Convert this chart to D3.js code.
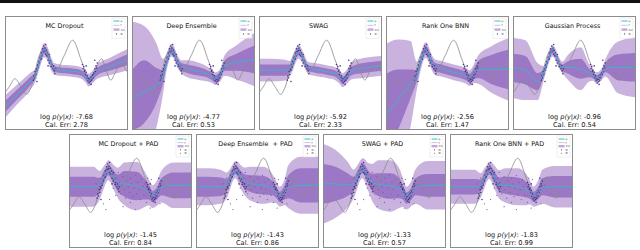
<!DOCTYPE html>
<html>
<head>
<meta charset="utf-8">
<script src="https://cdn.jsdelivr.net/npm/d3@7"></script>
<style>
body { margin: 0; background: #fff; }
text { font-family: "DejaVu Sans", sans-serif; white-space: pre; }
</style>
</head>
<body>
<svg width="640" height="250"></svg>
<script>
var xGrid = [0, 1, 2, 2.5, 2.8, 3.0, 3.2, 3.4, 3.6, 4, 4.5, 5.5, 6.2, 6.5, 6.8, 7.2, 7.5, 8.5, 10];

// true function f
var fX = [0, 0.4, 0.8, 1.3, 1.75, 2.1, 2.45, 2.8, 3.15, 3.4, 3.6, 4.1, 4.8, 5.5, 6.2, 6.85, 7.35, 7.85, 8.2, 8.6, 9.0, 9.4, 10];
var fY = [-1.4, -0.9, -0.4, -0.95, -1.5, -1.05, 0.1, 1.25, 1.7, 1.45, 0.9, 0.05, 1.2, 2.3, 0.9, -0.5, 0.25, 1.0, 0.25, -0.5, 0.1, 0.65, 0.0];

// training data
var trainPts = [
  [2.3,-0.5],[2.35,-0.2],[2.4,-0.35],[2.45,0.1],[2.5,-0.1],[2.55,0.3],[2.6,0.2],[2.65,0.55],
  [2.7,0.4],[2.75,0.8],[2.8,0.7],[2.85,1.1],[2.9,0.95],[2.95,1.4],[3.0,1.2],[3.05,1.7],
  [3.1,1.5],[3.15,1.9],[3.2,1.55],[3.25,1.75],[3.3,1.3],[3.35,1.6],[3.4,1.2],[3.45,1.4],
  [3.5,0.9],[3.55,1.15],[3.6,0.7],[3.7,0.85],[3.75,0.45],[3.8,0.6],[3.9,0.3],[3.95,0.5],
  [4.0,0.15],[4.1,0.3],[3.3,2.0],[2.95,1.0],[3.6,1.3],[4.05,-0.05],[3.5,0.5],[2.6,-0.6],
  [6.3,0.6],[6.35,0.3],[6.4,0.45],[6.45,0.1],[6.5,0.2],[6.55,-0.1],[6.6,0.05],[6.65,-0.35],
  [6.7,-0.2],[6.75,-0.55],[6.8,-0.4],[6.85,-0.7],[6.9,-0.45],[6.95,-0.6],[7.0,-0.3],[7.05,-0.5],
  [7.1,-0.15],[7.15,-0.35],[7.2,0.0],[7.25,-0.1],[7.3,0.3],[7.35,0.1],[7.4,0.5],[7.45,0.35],
  [7.5,0.7],[6.6,0.5],[7.0,-0.8],[7.3,0.9]
];

// extra points drawn in the PAD panels
var padPts = [
  [3.6,0.2],[3.8,-0.3],[3.9,0.9],[4.1,0.6],[4.2,-0.2],[4.3,0.4],[4.4,1.0],[4.5,0.1],
  [4.6,-0.5],[4.7,0.7],[4.8,0.3],[4.9,-0.1],[5.0,0.9],[5.1,0.5],[5.2,-0.4],[5.3,0.2],
  [5.4,1.1],[5.5,-0.2],[5.6,0.6],[5.7,0.1],[5.8,-0.6],[5.9,0.8],[6.0,0.3],[6.1,-0.3],
  [6.2,0.5],[6.3,-0.8],[6.4,0.9],[2.8,-0.9],[3.0,-1.3],[2.5,0.9],[4.4,-1.1],[5.4,-1.3],
  [6.6,-1.2],[7.4,-0.9],[7.7,0.4],[2.2,0.5],[3.3,-0.6],[5.0,-0.8],[4.0,1.3],[6.7,0.8]
];

var titles = ["MC Dropout", "Deep Ensemble", "SWAG", "Rank One BNN", "Gaussian Process",
  "MC Dropout + PAD", "Deep Ensemble  + PAD", "SWAG + PAD", "Rank One BNN + PAD"];
var logLik = ["-7.68", "-4.77", "-5.92", "-2.56", "-0.96", "-1.45", "-1.43", "-1.33", "-1.83"];
var calErr = ["2.78", "0.53", "2.33", "1.47", "0.54", "0.84", "0.86", "0.57", "0.99"];

// predictive mean and half widths of the inner / outer band
var mcMean = [-2.36, -1.5, -0.63, -0.1, 0.8, 1.35, 1.6, 1.45, 1.0, 0.3, 0.2, 0.12, 0.0, -0.2, -0.5, -0.2, 0.1, 0.45, 0.95];
var mcIn   = [0.4, 0.35, 0.3, 0.22, 0.25, 0.25, 0.25, 0.25, 0.25, 0.2, 0.2, 0.2, 0.2, 0.2, 0.22, 0.22, 0.25, 0.3, 0.38];
var mcOut  = [0.8, 0.7, 0.6, 0.45, 0.5, 0.5, 0.5, 0.5, 0.5, 0.4, 0.4, 0.4, 0.4, 0.42, 0.45, 0.45, 0.5, 0.6, 0.75];

var deMean = [-1.9, -1.3, -0.85, -0.3, 0.7, 1.3, 1.6, 1.45, 1.0, 0.45, 0.3, 0.1, -0.1, -0.25, -0.4, -0.1, 0.5, 0.75, 0.95];
var deIn   = [2.1, 2.2, 1.2, 0.5, 0.3, 0.25, 0.25, 0.25, 0.25, 0.25, 0.3, 0.3, 0.25, 0.25, 0.25, 0.25, 0.35, 0.6, 1.0];
var deOut  = [5.5, 4.6, 2.9, 1.3, 0.6, 0.5, 0.45, 0.45, 0.45, 0.45, 0.6, 0.6, 0.5, 0.45, 0.45, 0.45, 0.7, 1.2, 1.9];

var swMean = [0.2, 0.2, 0.2, 0.3, 0.8, 1.25, 1.5, 1.35, 1.0, 0.35, 0.25, 0.1, -0.05, -0.25, -0.5, -0.2, 0.15, 0.35, 0.5];
var swIn   = [0.4, 0.4, 0.4, 0.3, 0.28, 0.25, 0.25, 0.23, 0.22, 0.2, 0.22, 0.22, 0.22, 0.22, 0.25, 0.25, 0.3, 0.35, 0.35];
var swOut  = [0.8, 0.8, 0.75, 0.55, 0.52, 0.5, 0.5, 0.47, 0.45, 0.42, 0.45, 0.45, 0.45, 0.45, 0.5, 0.5, 0.6, 0.7, 0.7];

var r1Mean = [-2.95, -1.85, -0.75, -0.2, 0.7, 1.3, 1.6, 1.45, 1.0, 0.4, 0.3, 0.05, -0.1, -0.2, -0.35, 0.0, 0.25, 0.25, 0.25];
var r1In   = [2.9, 2.1, 1.0, 0.4, 0.3, 0.3, 0.3, 0.3, 0.3, 0.3, 0.3, 0.3, 0.3, 0.3, 0.3, 0.4, 0.6, 1.0, 1.4];
var r1Out  = [5.0, 4.2, 3.0, 1.0, 0.6, 0.55, 0.55, 0.55, 0.55, 0.55, 0.55, 0.55, 0.55, 0.55, 0.55, 0.7, 1.0, 1.6, 2.2];

var gpMean = [0.35, 0.2, -0.6, 0.0, 0.8, 1.3, 1.55, 1.4, 1.0, 0.4, 0.4, 0.3, 0.0, -0.15, -0.35, -0.1, 0.35, 0.4, 0.4];
var gpIn   = [1.0, 1.0, 0.6, 0.25, 0.2, 0.2, 0.2, 0.2, 0.2, 0.2, 0.45, 0.7, 0.3, 0.2, 0.2, 0.2, 0.3, 0.9, 1.0];
var gpOut  = [2.1, 2.1, 1.3, 0.5, 0.4, 0.4, 0.4, 0.4, 0.4, 0.4, 0.9, 1.5, 0.6, 0.4, 0.4, 0.4, 0.6, 1.8, 2.1];

var mcpMean = [0.3, 0.3, 0.3, 0.4, 0.9, 1.25, 1.45, 1.3, 1.0, 0.55, 0.5, 0.35, 0.1, -0.1, -0.4, -0.1, 0.3, 0.4, 0.4];
var mcpIn   = [0.7, 0.7, 0.7, 0.5, 0.4, 0.35, 0.35, 0.4, 0.45, 0.6, 0.9, 1.0, 0.7, 0.5, 0.4, 0.45, 0.6, 0.9, 0.9];
var mcpOut  = [1.4, 1.4, 1.4, 1.0, 0.8, 0.7, 0.7, 0.75, 0.85, 1.1, 1.5, 1.7, 1.2, 0.9, 0.8, 0.9, 1.1, 1.6, 1.6];

var depMean = [0.3, 0.3, 0.3, 0.4, 0.9, 1.3, 1.5, 1.35, 1.05, 0.65, 0.5, 0.4, 0.2, -0.05, -0.4, -0.1, 0.3, 0.4, 0.4];
var depIn   = [0.7, 0.7, 0.65, 0.45, 0.35, 0.3, 0.3, 0.35, 0.4, 0.5, 0.6, 0.65, 0.5, 0.4, 0.35, 0.5, 0.8, 1.2, 1.2];
var depOut  = [1.3, 1.3, 1.2, 0.9, 0.7, 0.6, 0.6, 0.7, 0.8, 1.0, 1.2, 1.3, 1.0, 0.8, 0.7, 0.9, 1.5, 2.0, 2.0];

var swpMean = [0.5, 0.5, 0.45, 0.5, 1.0, 1.4, 1.6, 1.45, 1.1, 0.6, 0.45, 0.35, 0.2, -0.1, -0.5, -0.15, 0.3, 0.4, 0.4];
var swpIn   = [1.4, 1.2, 0.8, 0.5, 0.4, 0.35, 0.35, 0.4, 0.45, 0.6, 0.8, 0.9, 0.7, 0.5, 0.4, 0.45, 0.6, 0.8, 0.8];
var swpOut  = [2.8, 2.4, 1.6, 1.0, 0.8, 0.7, 0.7, 0.8, 0.9, 1.3, 1.7, 1.8, 1.4, 1.0, 0.8, 0.9, 1.2, 1.7, 1.7];

var r1pMean = [0.3, 0.3, 0.3, 0.4, 0.9, 1.25, 1.45, 1.3, 1.0, 0.45, 0.4, 0.3, 0.1, -0.1, -0.4, -0.1, 0.3, 0.3, 0.3];
var r1pIn   = [0.55, 0.55, 0.55, 0.4, 0.35, 0.3, 0.3, 0.35, 0.4, 0.5, 0.6, 0.65, 0.55, 0.45, 0.35, 0.45, 0.6, 0.75, 0.75];
var r1pOut  = [1.2, 1.2, 1.2, 0.85, 0.7, 0.6, 0.6, 0.7, 0.8, 1.0, 1.2, 1.3, 1.1, 0.85, 0.7, 0.9, 1.2, 1.45, 1.45];

var models = [
  {mean: mcMean, inner: mcIn, outer: mcOut},
  {mean: deMean, inner: deIn, outer: deOut},
  {mean: swMean, inner: swIn, outer: swOut},
  {mean: r1Mean, inner: r1In, outer: r1Out},
  {mean: gpMean, inner: gpIn, outer: gpOut},
  {mean: mcpMean, inner: mcpIn, outer: mcpOut, pad: true},
  {mean: depMean, inner: depIn, outer: depOut, pad: true},
  {mean: swpMean, inner: swpIn, outer: swpOut, pad: true},
  {mean: r1pMean, inner: r1pIn, outer: r1pOut, pad: true}
];

var svg = d3.select("svg");
var W = 123, H = 114;
var lightPurple = "#c9b3de", darkPurple = "#9b77c5";
var cyan = "#3fb2cf", grey = "#8a8a8a", dotColor = "#48318d", padColor = "#7560ad";

svg.append("rect").attr("x", 0).attr("y", 0).attr("width", 640).attr("height", 3).attr("fill", "#111");

models.forEach(function (m, k) {
  var x0 = k < 5 ? 5 + 127 * k : 69 + 127 * (k - 5);
  var y0 = k < 5 ? 16 : 134;

  var x = d3.scaleLinear().domain([0, 10]).range([x0, x0 + W]);
  var y = d3.scaleLinear().domain([-4, 4]).range([y0 + H, y0]);

  var g = svg.append("g");
  g.append("clipPath").attr("id", "clip" + k)
    .append("rect").attr("x", x0).attr("y", y0).attr("width", W).attr("height", H);

  var plot = g.append("g").attr("clip-path", "url(#clip" + k + ")");

  function band(hw) {
    return d3.area()
      .x(function (d, i) { return x(xGrid[i]); })
      .y0(function (d, i) { return y(m.mean[i] - hw[i]); })
      .y1(function (d, i) { return y(m.mean[i] + hw[i]); })
      .curve(d3.curveMonotoneX);
  }

  plot.append("path").datum(xGrid).attr("d", band(m.outer)).attr("fill", lightPurple);
  plot.append("path").datum(xGrid).attr("d", band(m.inner)).attr("fill", darkPurple);

  plot.append("path").datum(fX)
    .attr("d", d3.line()
      .x(function (d) { return x(d); })
      .y(function (d, i) { return y(fY[i]); })
      .curve(d3.curveCatmullRom))
    .attr("fill", "none").attr("stroke", grey).attr("stroke-width", 0.8);

  if (m.pad) {
    plot.selectAll(".pad").data(padPts).enter().append("circle")
      .attr("cx", function (d) { return x(d[0]); })
      .attr("cy", function (d) { return y(d[1]); })
      .attr("r", 0.65).attr("fill", padColor);
  }

  plot.selectAll(".train").data(trainPts).enter().append("circle")
    .attr("cx", function (d) { return x(d[0]); })
    .attr("cy", function (d) { return y(d[1]); })
    .attr("r", 0.8).attr("fill", dotColor);

  plot.append("path").datum(xGrid)
    .attr("d", d3.line()
      .x(function (d) { return x(d); })
      .y(function (d, i) { return y(m.mean[i]); })
      .curve(d3.curveMonotoneX))
    .attr("fill", "none").attr("stroke", cyan).attr("stroke-width", 1);

  // frame
  g.append("rect").attr("x", x0 + 0.5).attr("y", y0 + 0.5).attr("width", W - 1).attr("height", H - 1)
    .attr("fill", "none").attr("stroke", "#8c8c8c").attr("stroke-width", 1);

  // title
  g.append("text").attr("x", x0 + W / 2 - 2).attr("y", y0 + 12)
    .attr("text-anchor", "middle").attr("font-size", 6.4).attr("fill", "#111")
    .text(titles[k]);

  // metrics
  var t = g.append("text").attr("x", x0 + W / 2).attr("y", y0 + H - 11.5)
    .attr("text-anchor", "middle").attr("font-size", 6.6).attr("fill", "#111");
  t.append("tspan").text("log ");
  t.append("tspan").attr("font-style", "italic").text("p(y|x)");
  t.append("tspan").text(": " + logLik[k]);
  g.append("text").attr("x", x0 + W / 2).attr("y", y0 + H - 3.5)
    .attr("text-anchor", "middle").attr("font-size", 6.6).attr("fill", "#111")
    .text("Cal. Err: " + calErr[k]);

  // legend
  var n = m.pad ? 5 : 4;
  var step = m.pad ? 3.6 : 4.3;
  var lx = x0 + W - 16, ly = y0 + 2;
  var lg = g.append("g");
  lg.append("rect").attr("x", lx).attr("y", ly).attr("width", 13).attr("height", 3 + n * step)
    .attr("fill", "#fff").attr("fill-opacity", 0.85).attr("stroke", "#ddd").attr("stroke-width", 0.5);
  var labels = ["\u03bc", "f", "\u00b1\u03c3", "D", "D\u0303"];
  for (var i = 0; i < n; i++) {
    var cy = ly + 3 + i * step;
    if (i === 0) lg.append("rect").attr("x", lx + 1.5).attr("y", cy - 0.9).attr("width", 6).attr("height", 1.8).attr("fill", "#8fdbe8");
    if (i === 1) lg.append("line").attr("x1", lx + 1.5).attr("x2", lx + 7.5).attr("y1", cy).attr("y2", cy).attr("stroke", "#bbb").attr("stroke-width", 0.8);
    if (i === 2) lg.append("rect").attr("x", lx + 1.5).attr("y", cy - 1.2).attr("width", 6).attr("height", 2.4).attr("fill", "#c4a9dd");
    if (i === 3) lg.append("circle").attr("cx", lx + 4.5).attr("cy", cy).attr("r", 0.6).attr("fill", dotColor);
    if (i === 4) lg.append("circle").attr("cx", lx + 4.5).attr("cy", cy).attr("r", 0.6).attr("fill", "#999");
    lg.append("text").attr("x", lx + 8.5).attr("y", cy + 1).attr("font-size", 2.8).attr("fill", "#333").text(labels[i]);
  }
});
</script>
</body>
</html>
